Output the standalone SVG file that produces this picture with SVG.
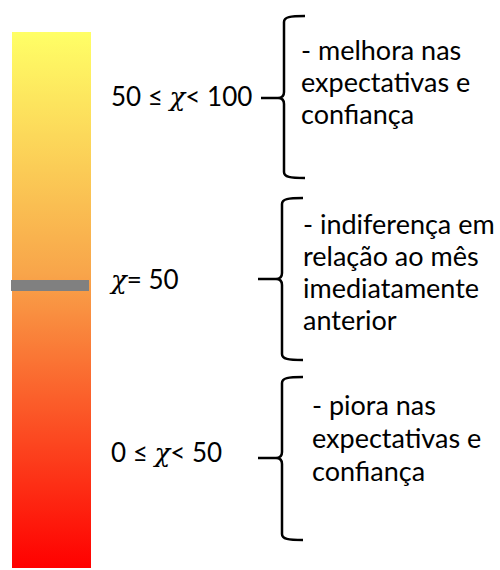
<svg xmlns="http://www.w3.org/2000/svg" width="500" height="570" viewBox="0 0 500 570">
<defs>
<linearGradient id="bar" x1="0" y1="0" x2="0" y2="1">
<stop offset="0" stop-color="#FFFF66"/>
<stop offset="0.45" stop-color="#F8A54A"/>
<stop offset="1" stop-color="#FF0000"/>
</linearGradient>
</defs>
<style>
.t{font-family:Lato,"Open Sans","Liberation Sans",sans-serif;font-size:26px;fill:#000}
.d{font-size:27px}
.x{font-style:italic;font-family:"DejaVu Serif","Liberation Serif",serif}
.br{fill:none;stroke:#000;stroke-width:2.5;stroke-linejoin:round}
</style>
<rect x="12" y="32" width="79" height="536" fill="url(#bar)"/>
<rect x="11" y="280" width="78" height="11" fill="#808080"/>
<g id="label-high"><text class="t" x="111" y="106">50 ≤ <tspan class="x">χ</tspan>&lt; 100</text></g>
<g id="label-mid"><text class="t" x="111" y="289"><tspan class="x">χ</tspan>= 50</text></g>
<g id="label-low"><text class="t" x="111" y="462">0 ≤ <tspan class="x">χ</tspan>&lt; 50</text></g>
<g id="connectors">
<path class="br" d="M305,16 C290,16 284,17 284,22 L284,92 C284,96 282,98 278,98 L261,98 M278,98 C282,98 284,100 284,104 L284,172 C284,177 290,178 305,178"/>
<path class="br" d="M303,198 C288,198 282,199 282,204 L282,273 C282,277 280,279 276,279 L258,279 M276,279 C280,279 282,281 282,285 L282,354 C282,359 288,360 303,360"/>
<path class="br" d="M303,377 C288,377 282,378 282,383 L282,452 C282,456 280,458 276,458 L258,458 M276,458 C280,458 282,460 282,464 L282,534 C282,539 288,540 303,540"/>
</g>
<g id="desc-high"><text class="t d"><tspan x="301" y="60">- melhora nas</tspan><tspan x="301" y="92">expectativas e</tspan><tspan x="301" y="124">confiança</tspan></text></g>
<g id="desc-mid"><text class="t d"><tspan x="303" y="234">- indiferença em</tspan><tspan x="303" y="266">relação ao mês</tspan><tspan x="303" y="298">imediatamente</tspan><tspan x="303" y="330">anterior</tspan></text></g>
<g id="desc-low"><text class="t d"><tspan x="312" y="415">- piora nas</tspan><tspan x="312" y="448">expectativas e</tspan><tspan x="312" y="481">confiança</tspan></text></g>
</svg>
